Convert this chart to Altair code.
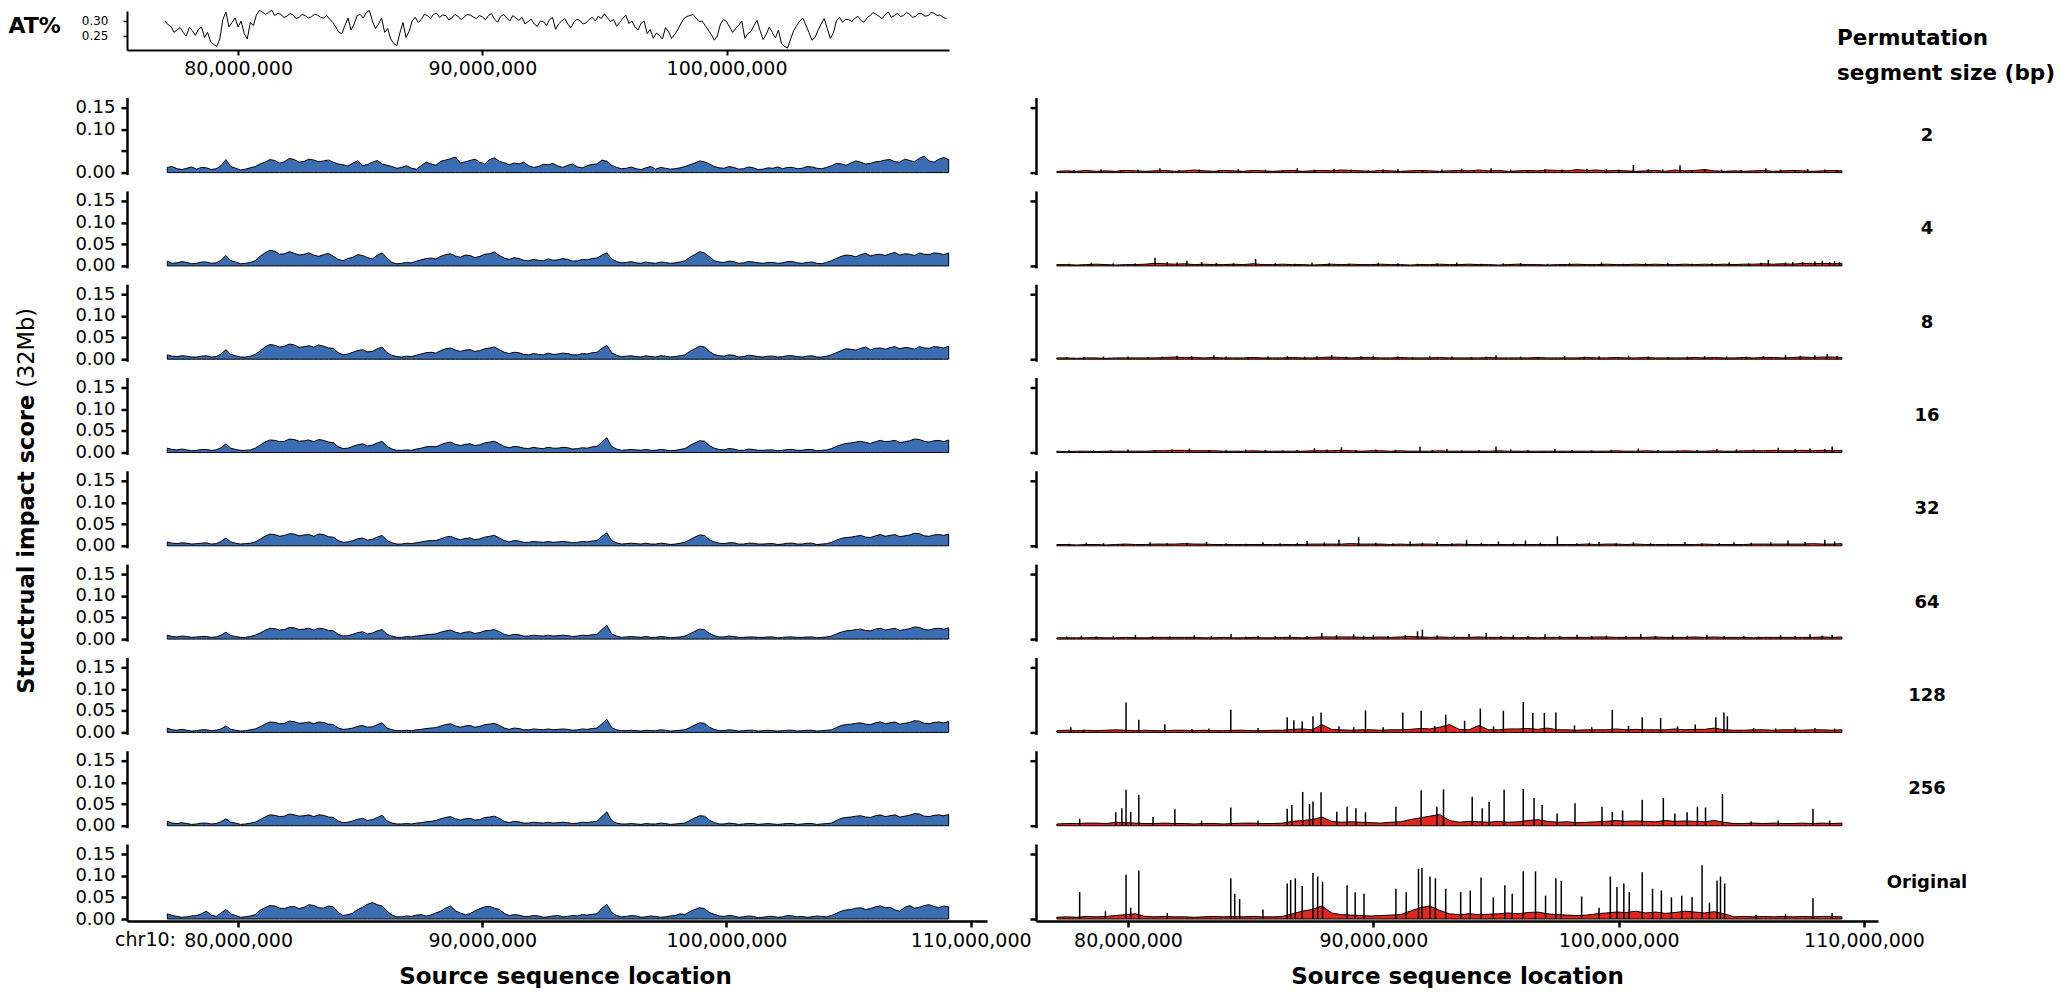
import altair as alt
import pandas as pd

FONT = "DejaVu Sans"
BLUE = "#3B6DB3"
RED = "#E3261B"

# ---------------- text / tick data ----------------
row_labels = ["2", "4", "8", "16", "32", "64", "128", "256", "Original"]
header_lines = ["Permutation", "segment size (bp)"]
y_title_bold = "Structrual impact score"
y_title_plain = "(32Mb)"
x_title = "Source sequence location"
chrom_prefix = "chr10:"
x_ticks = [80000000, 90000000, 100000000, 110000000]
at_x_ticks = [80000000, 90000000, 100000000]
score_ticks = [0.0, 0.05, 0.10, 0.15]
at_ticks = [0.25, 0.30]

# ---------------- AT% track (AT fraction x 1000, 0.125 Mb bins) ----------------
at_pos_mb = [
    77.0, 77.125, 77.25, 77.375, 77.5, 77.625, 77.75, 77.875,
    78.0, 78.125, 78.25, 78.375, 78.5, 78.625, 78.75, 78.875,
    79.0, 79.125, 79.25, 79.375, 79.5, 79.625, 79.75, 79.875,
    80.0, 80.125, 80.25, 80.375, 80.5, 80.625, 80.75, 80.875,
    81.0, 81.125, 81.25, 81.375, 81.5, 81.625, 81.75, 81.875,
    82.0, 82.125, 82.25, 82.375, 82.5, 82.625, 82.75, 82.875,
    83.0, 83.125, 83.25, 83.375, 83.5, 83.625, 83.75, 83.875,
    84.0, 84.125, 84.25, 84.375, 84.5, 84.625, 84.75, 84.875,
    85.0, 85.125, 85.25, 85.375, 85.5, 85.625, 85.75, 85.875,
    86.0, 86.125, 86.25, 86.375, 86.5, 86.625, 86.75, 86.875,
    87.0, 87.125, 87.25, 87.375, 87.5, 87.625, 87.75, 87.875,
    88.0, 88.125, 88.25, 88.375, 88.5, 88.625, 88.75, 88.875,
    89.0, 89.125, 89.25, 89.375, 89.5, 89.625, 89.75, 89.875,
    90.0, 90.125, 90.25, 90.375, 90.5, 90.625, 90.75, 90.875,
    91.0, 91.125, 91.25, 91.375, 91.5, 91.625, 91.75, 91.875,
    92.0, 92.125, 92.25, 92.375, 92.5, 92.625, 92.75, 92.875,
    93.0, 93.125, 93.25, 93.375, 93.5, 93.625, 93.75, 93.875,
    94.0, 94.125, 94.25, 94.375, 94.5, 94.625, 94.75, 94.875,
    95.0, 95.125, 95.25, 95.375, 95.5, 95.625, 95.75, 95.875,
    96.0, 96.125, 96.25, 96.375, 96.5, 96.625, 96.75, 96.875,
    97.0, 97.125, 97.25, 97.375, 97.5, 97.625, 97.75, 97.875,
    98.0, 98.125, 98.25, 98.375, 98.5, 98.625, 98.75, 98.875,
    99.0, 99.125, 99.25, 99.375, 99.5, 99.625, 99.75, 99.875,
    100.0, 100.125, 100.25, 100.375, 100.5, 100.625, 100.75, 100.875,
    101.0, 101.125, 101.25, 101.375, 101.5, 101.625, 101.75, 101.875,
    102.0, 102.125, 102.25, 102.375, 102.5, 102.625, 102.75, 102.875,
    103.0, 103.125, 103.25, 103.375, 103.5, 103.625, 103.75, 103.875,
    104.0, 104.125, 104.25, 104.375, 104.5, 104.625, 104.75, 104.875,
    105.0, 105.125, 105.25, 105.375, 105.5, 105.625, 105.75, 105.875,
    106.0, 106.125, 106.25, 106.375, 106.5, 106.625, 106.75, 106.875,
    107.0, 107.125, 107.25, 107.375, 107.5, 107.625, 107.75, 107.875,
    108.0, 108.125, 108.25, 108.375, 108.5, 108.625, 108.75, 108.875,
    109.0,
]
at_x1000 = [
    300, 288, 282, 262, 270, 278, 262, 250, 278, 268, 252, 272, 280, 245, 262, 230, 222, 215, 240, 305, 330, 280, 295, 310,
    280, 300, 258, 240, 295, 285, 320, 335, 330, 322, 328, 336, 318, 326, 322, 312, 316, 325, 320, 308, 312, 322, 318, 310,
    314, 322, 320, 312, 310, 318, 306, 295, 280, 262, 258, 285, 310, 270, 290, 318, 322, 310, 328, 335, 300, 275, 290, 310,
    262, 275, 240, 225, 218, 260, 295, 245, 265, 300, 312, 295, 305, 322, 318, 308, 322, 326, 312, 320, 318, 304, 310, 322,
    316, 305, 312, 322, 320, 314, 308, 318, 314, 304, 318, 325, 306, 296, 315, 322, 310, 300, 318, 310, 302, 312, 290, 298,
    306, 290, 282, 300, 298, 285, 304, 312, 272, 290, 300, 308, 290, 278, 296, 305, 302, 290, 294, 305, 312, 300, 316, 308,
    324, 310, 298, 305, 282, 295, 308, 320, 292, 300, 280, 270, 292, 300, 258, 272, 242, 260, 252, 240, 278, 265, 242, 255,
    270, 290, 308, 315, 318, 322, 310, 298, 300, 285, 270, 255, 236, 250, 290, 305, 298, 280, 262, 275, 285, 300, 242, 258,
    265, 285, 302, 268, 238, 255, 280, 262, 243, 270, 225, 215, 210, 240, 268, 285, 300, 310, 286, 262, 236, 245, 270, 290,
    308, 275, 242, 260, 300, 312, 296, 305, 305, 298, 308, 316, 302, 296, 310, 318, 328, 322, 315, 308, 322, 330, 312, 318,
    326, 315, 318, 328, 322, 312, 316, 325, 324, 316, 318, 328, 326, 318, 320, 312, 308,
]

# ---------------- original-sequence tracks (score x 1000, 0.2 Mb bins) ----------------
left_pos_mb = [
    77.1, 77.3, 77.5, 77.7, 77.9, 78.1, 78.3, 78.5, 78.7, 78.9, 79.1, 79.3, 79.5, 79.7, 79.9, 80.1, 80.3, 80.5, 80.7, 80.9,
    81.1, 81.3, 81.5, 81.7, 81.9, 82.1, 82.3, 82.5, 82.7, 82.9, 83.1, 83.3, 83.5, 83.7, 83.9, 84.1, 84.3, 84.5, 84.7, 84.9,
    85.1, 85.3, 85.5, 85.7, 85.9, 86.1, 86.3, 86.5, 86.7, 86.9, 87.1, 87.3, 87.5, 87.7, 87.9, 88.1, 88.3, 88.5, 88.7, 88.9,
    89.1, 89.3, 89.5, 89.7, 89.9, 90.1, 90.3, 90.5, 90.7, 90.9, 91.1, 91.3, 91.5, 91.7, 91.9, 92.1, 92.3, 92.5, 92.7, 92.9,
    93.1, 93.3, 93.5, 93.7, 93.9, 94.1, 94.3, 94.5, 94.7, 94.9, 95.1, 95.3, 95.5, 95.7, 95.9, 96.1, 96.3, 96.5, 96.7, 96.9,
    97.1, 97.3, 97.5, 97.7, 97.9, 98.1, 98.3, 98.5, 98.7, 98.9, 99.1, 99.3, 99.5, 99.7, 99.9, 100.1, 100.3, 100.5, 100.7, 100.9,
    101.1, 101.3, 101.5, 101.7, 101.9, 102.1, 102.3, 102.5, 102.7, 102.9, 103.1, 103.3, 103.5, 103.7, 103.9, 104.1, 104.3, 104.5, 104.7, 104.9,
    105.1, 105.3, 105.5, 105.7, 105.9, 106.1, 106.3, 106.5, 106.7, 106.9, 107.1, 107.3, 107.5, 107.7, 107.9, 108.1, 108.3, 108.5, 108.7, 108.9,
    109.1,
]

left_x1000 = {
    "2": [12, 14, 9, 7, 10, 13, 8, 12, 11, 7, 9, 16, 30, 14, 10, 6, 8, 11, 14, 20,
          24, 30, 28, 22, 25, 33, 30, 24, 26, 31, 29, 25, 27, 29, 24, 20, 18, 15, 22, 27,
          16, 19, 24, 28, 20, 17, 14, 10, 12, 16, 10, 8, 16, 24, 20, 17, 26, 29, 32, 36,
          22, 25, 28, 31, 24, 20, 30, 34, 26, 23, 18, 22, 20, 24, 16, 12, 14, 19, 18, 21,
          15, 12, 17, 20, 13, 11, 16, 19, 20, 29, 26, 17, 12, 9, 10, 13, 9, 7, 11, 14,
          8, 12, 10, 8, 9, 11, 14, 18, 22, 27, 25, 20, 14, 11, 10, 14, 12, 8, 9, 13,
          11, 7, 8, 11, 10, 13, 9, 12, 12, 9, 10, 14, 13, 10, 9, 12, 16, 21, 20, 17,
          22, 27, 24, 20, 21, 25, 26, 29, 30, 25, 24, 31, 28, 25, 33, 38, 27, 24, 31, 35,
          30],
    "4": [11, 6, 7, 10, 8, 5, 6, 9, 9, 6, 7, 13, 24, 12, 9, 5, 6, 8, 12, 22,
          30, 36, 34, 27, 28, 33, 29, 25, 27, 30, 25, 22, 26, 29, 22, 15, 12, 17, 20, 26,
          24, 19, 16, 25, 30, 18, 8, 5, 6, 8, 7, 11, 14, 17, 18, 16, 22, 26, 28, 23,
          20, 25, 24, 19, 22, 27, 28, 32, 24, 18, 15, 19, 17, 13, 12, 15, 13, 12, 16, 13,
          14, 17, 15, 11, 12, 15, 14, 17, 18, 25, 30, 16, 10, 7, 8, 10, 7, 6, 9, 7,
          6, 9, 8, 6, 7, 9, 12, 20, 26, 33, 30, 21, 12, 9, 8, 11, 10, 6, 7, 10,
          9, 7, 6, 8, 8, 6, 7, 10, 10, 7, 6, 8, 9, 6, 5, 8, 12, 17, 22, 25,
          24, 21, 26, 29, 23, 26, 27, 24, 28, 31, 25, 28, 27, 24, 30, 27, 26, 30, 29, 26,
          30],
    "8": [10, 7, 6, 8, 7, 5, 5, 7, 8, 5, 6, 12, 22, 11, 8, 5, 5, 7, 11, 19,
          28, 34, 32, 28, 30, 35, 33, 27, 29, 31, 28, 33, 30, 26, 25, 15, 10, 12, 16, 20,
          22, 17, 18, 24, 28, 15, 9, 6, 5, 7, 6, 9, 12, 15, 16, 14, 20, 24, 26, 21,
          18, 21, 22, 18, 20, 24, 26, 28, 22, 16, 13, 16, 15, 11, 10, 13, 11, 10, 14, 11,
          12, 14, 13, 10, 10, 13, 12, 15, 16, 25, 32, 15, 9, 6, 7, 8, 6, 5, 8, 6,
          5, 8, 7, 5, 6, 8, 10, 18, 24, 30, 28, 18, 11, 8, 7, 10, 9, 5, 6, 9,
          8, 6, 5, 7, 7, 5, 6, 8, 8, 6, 5, 7, 8, 5, 5, 7, 10, 15, 20, 24,
          23, 21, 25, 28, 22, 25, 26, 23, 27, 29, 24, 27, 26, 23, 29, 26, 25, 29, 28, 26,
          30],
    "16": [10, 7, 6, 8, 6, 4, 5, 7, 7, 5, 6, 11, 20, 10, 7, 5, 5, 6, 10, 17,
           24, 29, 28, 25, 26, 31, 30, 26, 27, 29, 25, 30, 28, 24, 23, 13, 9, 10, 14, 18,
           20, 15, 17, 22, 26, 14, 8, 5, 5, 6, 5, 8, 10, 13, 14, 13, 18, 22, 24, 19,
           16, 19, 20, 16, 18, 22, 24, 26, 20, 14, 11, 14, 13, 10, 9, 12, 10, 9, 12, 10,
           10, 12, 11, 8, 9, 11, 10, 13, 14, 24, 34, 14, 8, 5, 6, 7, 6, 5, 7, 5,
           5, 7, 6, 4, 5, 7, 9, 16, 22, 27, 26, 16, 10, 7, 6, 9, 8, 5, 5, 8,
           7, 5, 5, 6, 6, 4, 5, 7, 7, 5, 5, 7, 7, 4, 5, 6, 9, 14, 18, 21,
           22, 24, 26, 23, 21, 25, 28, 25, 26, 28, 23, 25, 27, 31, 30, 26, 24, 27, 28, 25,
           29],
    "32": [9, 6, 5, 7, 6, 4, 5, 6, 7, 4, 5, 10, 18, 9, 6, 4, 5, 6, 9, 15,
           22, 27, 26, 22, 24, 28, 27, 23, 25, 26, 22, 27, 26, 21, 20, 12, 8, 9, 12, 16,
           18, 13, 15, 20, 24, 12, 7, 4, 4, 6, 5, 7, 9, 11, 12, 12, 16, 20, 22, 17,
           14, 17, 18, 14, 16, 20, 22, 24, 18, 12, 9, 12, 11, 8, 8, 10, 9, 8, 10, 8,
           9, 10, 9, 7, 8, 10, 9, 11, 12, 22, 30, 12, 7, 4, 5, 6, 5, 4, 6, 4,
           4, 6, 5, 3, 4, 6, 8, 14, 20, 25, 24, 14, 9, 6, 5, 7, 7, 4, 4, 6,
           6, 4, 4, 5, 5, 3, 4, 6, 6, 4, 4, 6, 6, 3, 4, 5, 8, 13, 17, 19,
           20, 22, 24, 20, 19, 23, 26, 22, 24, 26, 21, 23, 25, 29, 28, 23, 22, 25, 26, 24,
           27],
    "64": [9, 6, 5, 7, 6, 4, 5, 6, 6, 4, 5, 9, 16, 8, 6, 4, 4, 6, 9, 14,
           20, 25, 24, 21, 22, 27, 26, 22, 23, 25, 21, 25, 24, 20, 19, 11, 7, 8, 11, 15,
           17, 12, 14, 19, 22, 11, 7, 4, 4, 6, 5, 7, 8, 10, 11, 12, 16, 19, 21, 16,
           13, 16, 17, 13, 15, 19, 20, 22, 17, 11, 8, 11, 10, 7, 7, 9, 8, 7, 9, 7,
           8, 9, 8, 6, 7, 9, 8, 10, 11, 22, 32, 12, 7, 4, 5, 6, 5, 4, 6, 4,
           4, 6, 5, 3, 4, 5, 7, 12, 18, 23, 22, 13, 8, 5, 5, 7, 6, 4, 4, 5,
           5, 4, 4, 5, 5, 3, 4, 5, 5, 4, 4, 5, 5, 3, 4, 5, 7, 12, 16, 19,
           20, 22, 23, 20, 19, 23, 25, 21, 23, 25, 20, 22, 24, 28, 27, 22, 21, 24, 25, 23,
           26],
    "128": [10, 6, 5, 7, 5, 3, 4, 6, 6, 4, 5, 8, 15, 7, 5, 3, 4, 6, 8, 13,
            19, 24, 23, 20, 21, 26, 25, 21, 22, 24, 20, 24, 23, 19, 18, 10, 7, 8, 10, 14,
            16, 12, 13, 18, 22, 10, 6, 4, 4, 5, 4, 6, 7, 9, 10, 11, 15, 18, 20, 15,
            12, 15, 16, 12, 14, 18, 19, 21, 16, 10, 7, 10, 9, 6, 6, 8, 7, 6, 8, 6,
            7, 8, 7, 5, 6, 8, 7, 9, 10, 20, 30, 11, 6, 4, 4, 5, 4, 3, 5, 4,
            4, 6, 5, 3, 4, 5, 6, 11, 17, 22, 21, 12, 7, 4, 4, 6, 5, 3, 4, 5,
            5, 3, 4, 5, 4, 3, 4, 5, 5, 3, 4, 5, 5, 3, 4, 5, 6, 11, 16, 18,
            19, 21, 22, 19, 18, 22, 24, 20, 22, 24, 19, 21, 23, 27, 26, 21, 20, 23, 24, 22,
            25],
    "256": [10, 6, 5, 7, 5, 3, 4, 6, 6, 4, 5, 9, 16, 8, 6, 3, 4, 6, 8, 14,
            20, 25, 24, 21, 22, 27, 25, 22, 23, 25, 21, 25, 24, 20, 19, 11, 7, 8, 11, 15,
            17, 12, 14, 19, 24, 11, 6, 4, 4, 5, 4, 6, 7, 9, 10, 12, 16, 19, 21, 16,
            13, 16, 17, 13, 14, 19, 20, 22, 17, 10, 7, 10, 9, 6, 6, 8, 7, 6, 8, 6,
            7, 8, 7, 5, 6, 8, 7, 9, 10, 21, 32, 12, 6, 4, 4, 5, 4, 3, 5, 4,
            4, 6, 5, 3, 4, 5, 6, 12, 18, 23, 22, 13, 7, 4, 4, 6, 5, 3, 4, 5,
            5, 3, 4, 5, 4, 3, 4, 5, 5, 3, 4, 5, 5, 3, 4, 5, 6, 12, 17, 19,
            20, 22, 23, 20, 19, 23, 25, 21, 23, 25, 20, 22, 24, 28, 27, 22, 21, 24, 25, 23,
            26],
    "Original": [12, 8, 6, 4, 5, 7, 8, 12, 18, 9, 6, 14, 22, 12, 8, 4, 5, 7, 10, 20,
                 26, 31, 30, 25, 24, 28, 29, 24, 27, 33, 31, 26, 25, 30, 28, 15, 8, 10, 14, 22,
                 27, 34, 38, 33, 30, 18, 9, 5, 5, 7, 6, 9, 10, 7, 9, 14, 18, 25, 30, 19,
                 14, 10, 12, 19, 24, 28, 29, 25, 22, 13, 8, 10, 9, 6, 6, 8, 7, 4, 5, 7,
                 8, 5, 6, 8, 7, 10, 9, 11, 12, 25, 34, 15, 8, 5, 6, 8, 7, 4, 5, 7,
                 6, 4, 5, 7, 8, 12, 10, 17, 22, 26, 24, 15, 11, 7, 6, 8, 7, 4, 5, 7,
                 6, 3, 4, 6, 6, 4, 5, 8, 7, 5, 6, 4, 5, 7, 6, 5, 8, 13, 18, 21,
                 22, 25, 26, 22, 24, 28, 30, 26, 27, 21, 18, 27, 31, 25, 27, 31, 33, 29, 26, 30,
                 28],
}

# ---------------- permuted-sequence tracks (score x 1000, 0.4 Mb bins) ----------------
right_pos_mb = [
    77.1, 77.5, 77.9, 78.3, 78.7, 79.1, 79.5, 79.9, 80.3, 80.7,
    81.1, 81.5, 81.9, 82.3, 82.7, 83.1, 83.5, 83.9, 84.3, 84.7,
    85.1, 85.5, 85.9, 86.3, 86.7, 87.1, 87.5, 87.9, 88.3, 88.7,
    89.1, 89.5, 89.9, 90.3, 90.7, 91.1, 91.5, 91.9, 92.3, 92.7,
    93.1, 93.5, 93.9, 94.3, 94.7, 95.1, 95.5, 95.9, 96.3, 96.7,
    97.1, 97.5, 97.9, 98.3, 98.7, 99.1, 99.5, 99.9, 100.3, 100.7,
    101.1, 101.5, 101.9, 102.3, 102.7, 103.1, 103.5, 103.9, 104.3, 104.7,
    105.1, 105.5, 105.9, 106.3, 106.7, 107.1, 107.5, 107.9, 108.3, 108.7,
    109.1,
]

right_base_x1000 = {
    "2": [3, 4, 3, 5, 3, 4, 3, 5, 4, 3, 4, 5, 3, 4, 6, 4, 3, 5, 4, 3,
          5, 4, 3, 4, 5, 3, 4, 5, 4, 6, 5, 4, 3, 5, 4, 3, 4, 5, 4, 3,
          4, 5, 4, 6, 4, 5, 3, 4, 5, 4, 6, 5, 4, 7, 5, 6, 4, 5, 4, 3,
          4, 5, 3, 6, 4, 5, 7, 4, 3, 4, 3, 4, 5, 3, 4, 5, 4, 3, 4, 5, 4],
    "4": [3, 3, 2, 3, 4, 3, 2, 3, 3, 4, 6, 5, 4, 5, 3, 4, 3, 3, 4, 3,
          5, 3, 3, 4, 3, 3, 2, 3, 4, 3, 4, 3, 3, 4, 3, 3, 2, 3, 3, 4,
          3, 3, 4, 3, 3, 2, 3, 4, 3, 3, 2, 3, 3, 4, 3, 3, 4, 3, 3, 4,
          3, 4, 3, 3, 4, 3, 4, 3, 4, 3, 4, 4, 5, 4, 5, 4, 6, 5, 6, 5, 6],
    "8": [3, 3, 2, 3, 3, 2, 3, 3, 3, 3, 3, 4, 5, 4, 4, 3, 4, 3, 3, 3,
          4, 3, 3, 3, 4, 3, 3, 4, 5, 4, 3, 4, 4, 3, 3, 4, 3, 3, 3, 4,
          3, 3, 3, 3, 4, 3, 3, 3, 3, 4, 3, 3, 3, 3, 4, 3, 3, 4, 3, 3,
          4, 3, 3, 3, 3, 4, 3, 4, 3, 3, 4, 3, 4, 4, 3, 4, 5, 4, 5, 5, 4],
    "16": [3, 2, 3, 3, 2, 3, 3, 3, 3, 3, 4, 4, 5, 5, 4, 4, 4, 3, 3, 3,
           4, 3, 3, 3, 3, 3, 4, 4, 4, 5, 4, 3, 4, 4, 3, 4, 3, 3, 3, 4,
           3, 3, 3, 3, 3, 4, 3, 3, 3, 3, 3, 3, 3, 3, 3, 3, 3, 4, 3, 3,
           4, 3, 3, 3, 4, 3, 3, 4, 3, 3, 4, 4, 4, 5, 4, 4, 5, 4, 5, 4, 5],
    "32": [3, 3, 2, 3, 3, 2, 3, 4, 3, 3, 4, 4, 4, 5, 4, 4, 3, 3, 3, 3,
           3, 3, 3, 3, 3, 3, 4, 4, 4, 4, 5, 4, 4, 4, 3, 4, 3, 4, 4, 3,
           3, 4, 3, 3, 3, 3, 3, 3, 3, 3, 3, 3, 3, 3, 4, 3, 4, 4, 3, 4,
           3, 3, 3, 3, 3, 3, 4, 3, 3, 3, 3, 4, 4, 4, 4, 4, 4, 5, 4, 4, 5],
    "64": [3, 3, 3, 3, 4, 3, 3, 4, 3, 3, 4, 4, 4, 4, 4, 3, 3, 4, 3, 3,
           4, 3, 3, 4, 4, 3, 4, 5, 5, 5, 5, 4, 4, 5, 4, 5, 6, 5, 4, 5,
           4, 4, 4, 5, 4, 4, 4, 3, 4, 3, 4, 4, 4, 4, 4, 5, 5, 4, 4, 4,
           4, 5, 4, 4, 4, 5, 4, 5, 4, 4, 4, 3, 4, 4, 4, 4, 4, 4, 5, 4, 5],
    "128": [4, 5, 4, 5, 4, 5, 6, 5, 4, 5, 4, 4, 5, 5, 4, 5, 4, 4, 5, 5,
            4, 4, 5, 5, 7, 8, 6, 18, 7, 6, 5, 6, 6, 5, 6, 6, 7, 9, 8, 12,
            18, 7, 6, 16, 6, 6, 8, 8, 9, 7, 10, 6, 6, 5, 6, 6, 6, 8, 6, 7,
            6, 6, 6, 8, 6, 7, 7, 10, 6, 5, 5, 6, 6, 5, 6, 6, 5, 6, 6, 5, 6],
    "256": [4, 5, 5, 6, 6, 5, 8, 7, 6, 5, 5, 6, 5, 5, 4, 5, 5, 4, 5, 6,
            6, 5, 5, 6, 10, 12, 14, 20, 10, 8, 9, 8, 7, 6, 8, 9, 14, 18, 22, 26,
            12, 8, 10, 9, 8, 10, 8, 9, 12, 14, 10, 8, 9, 7, 8, 9, 10, 12, 10, 11,
            10, 9, 12, 10, 11, 10, 9, 12, 8, 5, 5, 6, 5, 6, 5, 5, 6, 5, 6, 5, 6],
    "Original": [4, 5, 4, 6, 5, 6, 8, 10, 12, 6, 5, 6, 5, 5, 4, 5, 6, 5, 6, 5,
                 6, 5, 5, 6, 12, 18, 22, 30, 14, 10, 9, 8, 7, 8, 9, 10, 18, 26, 30, 20,
                 12, 10, 12, 10, 11, 12, 14, 12, 15, 16, 12, 10, 9, 8, 9, 12, 14, 16, 15, 18,
                 14, 16, 13, 15, 18, 16, 14, 17, 12, 5, 6, 5, 6, 5, 6, 5, 6, 5, 6, 6, 5],
}

spike_pos_mb = {
    "2": [81.3, 84.5, 86.9, 88.4, 91.0, 93.6, 94.8, 97.0, 98.7, 100.6, 102.5, 103.5, 106.0, 107.7,
          77.8, 78.9, 79.7, 80.4, 82.1, 82.9, 83.7, 85.6, 86.3, 87.6, 89.1, 89.8, 90.4, 92.0, 92.8,
          94.1, 95.6, 96.3, 97.7, 99.5, 100.0, 101.2, 101.8, 103.0, 104.2, 105.0, 106.6, 107.2, 108.4, 108.9],
    "4": [78.5, 81.1, 82.4, 83.0, 85.2, 87.5, 90.2, 93.4, 96.0, 99.3, 102.0, 104.5, 106.1, 107.5, 108.3, 108.8,
          77.6, 79.4, 80.3, 81.6, 82.0, 83.6, 84.3, 86.0, 86.8, 88.2, 89.0, 91.0, 91.8, 92.6, 94.4, 95.3,
          97.1, 98.0, 100.2, 101.1, 103.0, 103.8, 105.3, 105.8, 106.8, 107.1, 108.0, 108.6, 109.0],
    "8": [79.0, 82.0, 83.5, 86.5, 88.3, 90.0, 92.3, 95.0, 97.8, 100.4, 103.5, 106.8, 108.5,
          77.5, 78.2, 80.0, 80.8, 81.4, 82.6, 84.0, 84.9, 85.7, 87.2, 87.7, 88.9, 89.5, 91.0, 91.6,
          93.2, 94.0, 94.6, 96.0, 96.7, 98.6, 99.2, 101.2, 102.0, 102.8, 104.4, 105.2, 105.9, 107.4,
          108.0, 108.9],
    "16": [80.0, 82.5, 84.8, 87.6, 88.7, 91.9, 93.0, 95.0, 97.4, 100.8, 104.0, 106.5, 108.7,
           77.6, 78.6, 79.3, 81.1, 81.8, 83.3, 84.0, 85.6, 86.3, 86.9, 88.1, 89.3, 90.1, 90.9, 92.4,
           93.6, 94.3, 95.6, 96.3, 98.1, 98.9, 99.7, 101.6, 102.4, 103.2, 104.8, 105.5, 107.2, 107.8, 108.4],
    "32": [78.3, 80.9, 83.2, 85.5, 87.3, 88.6, 89.4, 91.5, 92.6, 93.8, 95.1, 96.2, 97.5, 99.2, 100.6,
           102.7, 104.7, 106.9, 108.4,
           77.6, 79.0, 79.8, 81.6, 82.4, 84.0, 84.8, 86.2, 86.9, 88.0, 90.1, 90.8, 92.0, 93.2, 94.4,
           95.7, 96.8, 98.3, 98.8, 99.9, 101.3, 102.0, 103.4, 104.1, 105.4, 106.2, 107.6, 108.8],
    "64": [78.1, 80.3, 82.7, 84.2, 85.3, 86.6, 87.9, 89.2, 90.0, 91.8, 92.0, 92.6, 93.9, 94.6, 95.7,
           97.0, 98.3, 99.5, 100.9, 102.2, 103.6, 105.1, 106.6, 107.8, 108.7,
           77.5, 78.7, 79.4, 81.0, 81.7, 83.4, 84.8, 86.0, 87.3, 88.5, 89.6, 90.6, 91.3, 93.3, 95.2,
           96.3, 97.6, 98.9, 100.3, 101.5, 102.8, 104.3, 105.7, 107.2, 108.3],
    "128": [77.67, 78.2, 79.92, 80.44, 81.5, 82.6, 83.3, 84.19, 85.3, 86.49, 86.76, 87.10, 87.54, 87.87,
            88.6, 89.2, 89.68, 90.4, 91.20, 91.95, 92.5, 92.95, 93.72, 94.36, 94.9, 95.30, 96.11, 96.50,
            96.97, 97.44, 98.2, 98.9, 99.74, 100.4, 100.96, 101.71, 102.4, 103.12, 103.96, 104.29, 104.43,
            105.5, 106.4, 107.2, 108.0, 108.8],
    "256": [78.03, 79.5, 79.75, 79.92, 80.11, 80.44, 81.02, 81.91, 83.0, 84.19, 85.3, 86.49, 86.68, 87.12,
            87.40, 87.54, 87.87, 88.51, 88.93, 89.29, 89.68, 90.92, 91.95, 92.59, 92.86, 94.03, 94.44,
            94.72, 95.33, 96.11, 96.55, 96.88, 97.49, 98.22, 99.32, 99.74, 100.16, 100.96, 101.82, 102.29,
            102.79, 103.21, 103.54, 104.23, 105.4, 106.5, 107.92, 108.6],
    "Original": [78.03, 79.08, 79.92, 80.11, 80.44, 81.6, 84.19, 84.35, 84.55, 85.5, 86.49, 86.63, 86.82,
                 87.10, 87.54, 87.73, 87.93, 88.93, 89.26, 89.62, 90.92, 91.34, 91.84, 91.98, 92.31, 92.53,
                 92.95, 93.56, 93.95, 94.39, 94.89, 95.36, 95.66, 96.11, 96.61, 97.02, 97.44, 97.66, 98.49,
                 99.2, 99.66, 99.93, 100.21, 100.43, 100.96, 101.38, 101.74, 102.15, 102.57, 102.99, 103.40,
                 103.7, 104.01, 104.15, 104.32, 105.6, 106.8, 107.92, 108.7],
}
spike_x1000 = {
    "2": [10, 8, 10, 9, 8, 9, 10, 8, 9, 18, 17, 8, 10, 8,
          6, 7, 6, 7, 6, 7, 6, 7, 6, 7, 7, 6, 7, 6, 7,
          6, 7, 6, 7, 8, 7, 8, 7, 6, 7, 6, 7, 6, 7, 6],
    "4": [7, 19, 12, 9, 16, 8, 7, 8, 7, 8, 7, 8, 14, 9, 12, 11,
          5, 6, 6, 9, 8, 7, 6, 6, 5, 6, 5, 6, 5, 6, 5, 6,
          5, 6, 5, 6, 5, 6, 6, 7, 8, 9, 10, 9, 8],
    "8": [6, 8, 9, 7, 10, 8, 7, 9, 7, 8, 7, 10, 12,
          5, 5, 6, 5, 6, 7, 6, 5, 6, 6, 7, 6, 7, 6, 5,
          6, 5, 6, 6, 5, 6, 7, 6, 5, 6, 6, 6, 7, 8,
          9, 8],
    "16": [7, 9, 7, 10, 12, 13, 8, 14, 8, 9, 8, 11, 14,
           5, 6, 5, 6, 7, 6, 5, 6, 5, 6, 7, 6, 7, 6, 6,
           5, 6, 7, 6, 6, 5, 6, 6, 5, 6, 7, 7, 8, 9, 8],
    "32": [7, 8, 9, 8, 11, 14, 20, 10, 9, 13, 10, 12, 22, 9, 8,
           9, 8, 12, 14,
           5, 6, 5, 6, 7, 6, 5, 6, 7, 8, 7, 6, 7, 6, 7,
           6, 7, 6, 7, 6, 6, 5, 6, 6, 7, 8, 9, 10],
    "64": [8, 10, 9, 12, 8, 10, 14, 11, 10, 18, 22, 9, 12, 14, 9,
           11, 10, 8, 12, 9, 10, 8, 9, 11, 10,
           6, 6, 7, 7, 6, 7, 6, 7, 8, 9, 8, 7, 9, 8, 8,
           7, 8, 7, 8, 7, 8, 7, 6, 7, 8],
    "128": [12, 6, 69, 29, 19, 8, 9, 52, 10, 35, 28, 25, 37, 46,
            14, 12, 51, 12, 46, 50, 15, 41, 27, 55, 14, 50, 70, 45,
            45, 46, 16, 12, 52, 15, 35, 33, 14, 18, 35, 46, 37,
            10, 9, 11, 10, 9],
    "256": [16, 31, 40, 83, 32, 71, 20, 38, 12, 42, 12, 39, 48, 78,
            50, 56, 77, 32, 44, 40, 31, 44, 82, 44, 84, 67, 40,
            55, 83, 85, 64, 48, 28, 52, 44, 32, 35, 60, 64, 28,
            31, 44, 42, 73, 10, 12, 39, 12],
    "Original": [62, 18, 102, 26, 112, 14, 94, 58, 46, 22, 82, 90, 94,
                 76, 106, 98, 86, 78, 62, 58, 70, 62, 116, 118, 98, 94,
                 70, 62, 66, 96, 50, 78, 58, 110, 110, 54, 94, 88, 52,
                 26, 98, 74, 82, 62, 108, 70, 66, 50, 54, 50, 124,
                 38, 89, 98, 82, 10, 12, 48, 14],
}

# ---------------- layout ----------------
L_W, R_W, P_H = 860, 842, 77
AT_W, AT_H = 822, 39
GAP_ROW, GAP_COL = 16.3, 49
SPACER_H = 14.4
Y_DOM = [-0.0046, 0.1731]
L_DOM = [75450000, 110670000]
R_DOM = [76250000, 110570000]
AT_DOM = [75450000, 109110000]
AT_YDOM = [0.2033, 0.3333]

AX = dict(tickSize=6, tickWidth=2.5, domainWidth=2.5, domainColor="black", tickColor="black",
          labelColor="black", labelFont=FONT, titleFont=FONT, titleColor="black", grid=False)


def bottom_axis(title_x):
    return alt.Axis(values=x_ticks, format=",d", labelFontSize=19, labelFlush=False,
                    labelOverlap=False, labelPadding=4, title=x_title, titleFontSize=23,
                    titleFontWeight="bold", titlePadding=15, titleX=title_x, **AX)


def score_axis(show_labels, first):
    kw = dict(values=score_ticks, format=".2f", labelFontSize=18, labelPadding=6, title=None,
              labels=show_labels, **AX)
    if first and show_labels:
        kw["labelExpr"] = "datum.value == 0.05 ? '' : datum.label"
    return alt.Axis(**kw)


def text_layer(txt, x, y, size, weight="normal", align="left", baseline="middle", angle=0):
    return alt.Chart(pd.DataFrame({"t": [txt]})).mark_text(
        font=FONT, fontSize=size, fontWeight=weight, align=align, baseline=baseline,
        angle=angle, color="black").encode(x=alt.value(x), y=alt.value(y), text="t:N")


def left_panel(i, r):
    df = pd.DataFrame({"bp": [round(p * 1e6) for p in left_pos_mb],
                       "score": [v / 1000 for v in left_x1000[r]]})
    last = i == len(row_labels) - 1
    xax = bottom_axis(438) if last else None
    area = alt.Chart(df).mark_area(fill=BLUE, stroke="black", strokeWidth=1).encode(
        x=alt.X("bp:Q", scale=alt.Scale(domain=L_DOM, nice=False, zero=False), axis=xax),
        y=alt.Y("score:Q", scale=alt.Scale(domain=Y_DOM, nice=False, zero=False),
                axis=score_axis(True, i == 0)),
        y2=alt.datum(0),
    )
    layers = [area]
    if r == "32":
        layers.append(text_layer(y_title_bold, -100, -76, 22.5, "bold", "right", "middle", 270))
        layers.append(text_layer(y_title_plain, -100, -83, 22.5, "normal", "left", "middle", 270))
    if last:
        layers.append(text_layer(chrom_prefix, 49, P_H + 10, 19, "normal", "right", "top"))
    return alt.layer(*layers).properties(width=L_W, height=P_H)


def right_panel(i, r):
    df = pd.DataFrame({"bp": [round(p * 1e6) for p in right_pos_mb],
                       "score": [v / 1000 for v in right_base_x1000[r]]})
    sp = pd.DataFrame({"bp": [round(p * 1e6) for p in spike_pos_mb[r]],
                       "score": [v / 1000 for v in spike_x1000[r]]})
    last = i == len(row_labels) - 1
    xax = bottom_axis(421) if last else None
    xs = alt.Scale(domain=R_DOM, nice=False, zero=False)
    ys = alt.Scale(domain=Y_DOM, nice=False, zero=False)
    area = alt.Chart(df).mark_area(fill=RED, stroke="black", strokeWidth=1).encode(
        x=alt.X("bp:Q", scale=xs, axis=xax),
        y=alt.Y("score:Q", scale=ys, axis=score_axis(False, False)),
        y2=alt.datum(0),
    )
    spikes = alt.Chart(sp).mark_rule(color="black", strokeWidth=1.5).encode(
        x=alt.X("bp:Q", scale=xs),
        y=alt.Y("score:Q", scale=ys),
        y2=alt.datum(0),
    )
    lab = text_layer(r, 891, P_H / 2, 18, "bold", "center", "middle")
    return alt.layer(area, spikes, lab).properties(width=R_W, height=P_H)


at_df = pd.DataFrame({"bp": [round(p * 1e6) for p in at_pos_mb],
                      "at": [v / 1000 for v in at_x1000]})
at_panel = alt.Chart(at_df).mark_line(color="black", strokeWidth=1).encode(
    x=alt.X("bp:Q", scale=alt.Scale(domain=AT_DOM, nice=False, zero=False),
            axis=alt.Axis(values=at_x_ticks, format=",d", labelFontSize=19, labelFlush=False,
                          labelOverlap=False, labelPadding=4, title=None,
                          **{**AX, "tickSize": 5, "tickWidth": 2, "domainWidth": 2})),
    y=alt.Y("at:Q", scale=alt.Scale(domain=AT_YDOM, nice=False, zero=False),
            axis=alt.Axis(values=at_ticks, format=".2f", labelFontSize=12, labelPadding=15,
                          title="AT%", titleAngle=0, titleFontSize=22, titleFontWeight="bold",
                          titleAlign="left", titleBaseline="middle", titleX=-119, titleY=14,
                          **{**AX, "tickSize": 4, "tickWidth": 1.5, "domainWidth": 2})),
).properties(width=AT_W, height=AT_H)

header = alt.layer(
    text_layer(header_lines[0], 801, 34, 21.5, "bold", "left", "alphabetic"),
    text_layer(header_lines[1], 801, 69, 21.5, "bold", "left", "alphabetic"),
).properties(width=R_W, height=AT_H)


def spacer(w):
    return alt.Chart(pd.DataFrame({"z": [0]})).mark_point(opacity=0).encode(
        x=alt.value(0), y=alt.value(0)).properties(width=w, height=SPACER_H)


cells = [at_panel, header, spacer(L_W), spacer(R_W)]
for i, r in enumerate(row_labels):
    cells.append(left_panel(i, r))
    cells.append(right_panel(i, r))

chart = alt.concat(*cells, columns=2, spacing={"row": GAP_ROW, "column": GAP_COL},
                   bounds="flush", align="each").properties(
    padding={"left": 0, "top": 0, "right": 0, "bottom": 0}
).configure(font=FONT).configure_view(stroke=None)

chart.save("out.html", embed_options={"renderer": "svg", "actions": False})
